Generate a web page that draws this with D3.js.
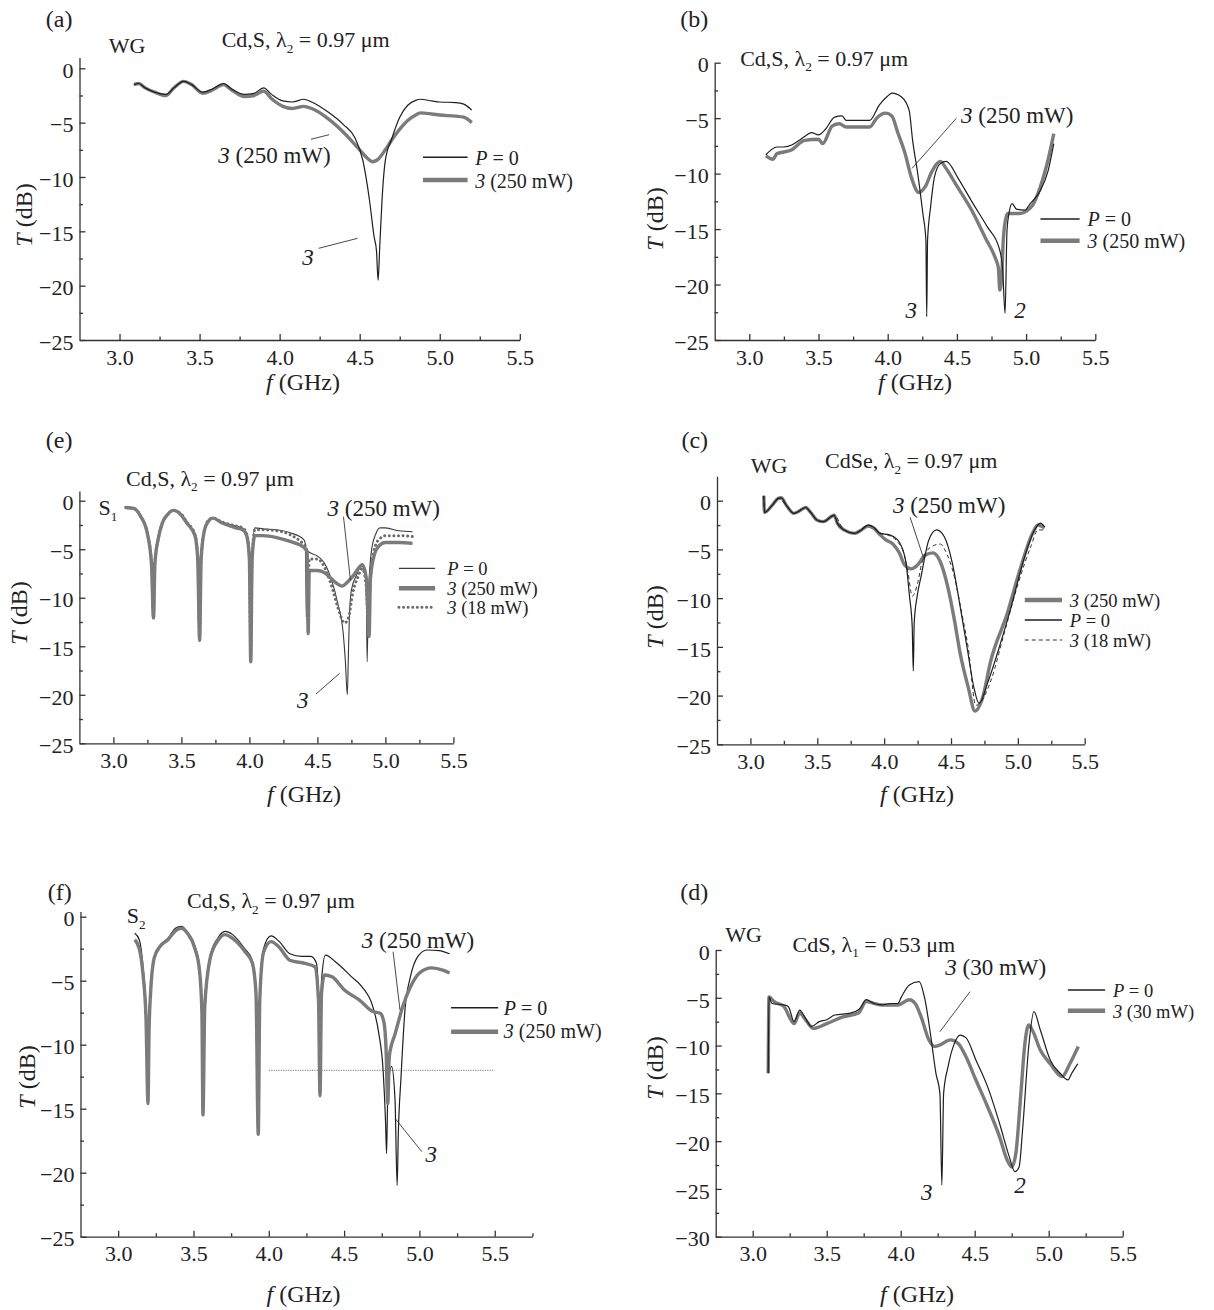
<!DOCTYPE html>
<html><head><meta charset="utf-8">
<script src="https://cdn.jsdelivr.net/npm/d3@7"></script>
<style>
body{margin:0;background:#fff}
svg{display:block}
text{font-family:"Liberation Serif","Times New Roman",serif;fill:#222;white-space:pre}
</style>
</head><body>
<svg id="chart" width="1214" height="1310"></svg>
<script>
// ---------------- DATA (f in GHz, T in dB) ----------------
const xTickValues = [3.0, 3.5, 4.0, 4.5, 5.0, 5.5];
const yTickValues25 = [0, -5, -10, -15, -20, -25];
const yTickValues30 = [0, -5, -10, -15, -20, -25, -30];

// (a) WG, Cd,S, λ2 = 0.97 µm
const aP0 = [[3.09,-1.5],[3.12,-1.4],[3.16,-1.8],[3.22,-2.2],[3.29,-2.4],[3.34,-1.8],[3.4,-1.2],[3.45,-1.5],[3.52,-2.2],[3.58,-1.9],[3.65,-1.4],[3.7,-1.9],[3.78,-2.4],[3.84,-2.3],[3.9,-1.8],[3.95,-2.4],[4.02,-3.0],[4.08,-3.1],[4.15,-2.85],[4.2,-3.1],[4.3,-4.0],[4.4,-5.2],[4.47,-6.4],[4.52,-8.5],[4.56,-12.0],[4.59,-15.5],[4.605,-16.8],[4.615,-19.5],[4.625,-16.5],[4.64,-12],[4.66,-8.5],[4.7,-6.5],[4.75,-4.5],[4.8,-3.4],[4.85,-2.95],[4.88,-2.85],[4.95,-3.0],[5.0,-3.1],[5.1,-3.15],[5.15,-3.3],[5.2,-3.85]];
const a250 = [[3.09,-1.5],[3.12,-1.4],[3.16,-1.8],[3.22,-2.2],[3.29,-2.5],[3.34,-1.8],[3.4,-1.2],[3.45,-1.5],[3.52,-2.3],[3.58,-2.0],[3.65,-1.5],[3.7,-2.0],[3.78,-2.6],[3.84,-2.5],[3.9,-2.1],[3.95,-2.8],[4.02,-3.5],[4.08,-3.7],[4.15,-3.5],[4.2,-3.7],[4.3,-4.6],[4.4,-5.9],[4.5,-7.5],[4.55,-8.3],[4.58,-8.6],[4.62,-8.3],[4.66,-7.5],[4.7,-6.6],[4.75,-5.6],[4.8,-4.8],[4.85,-4.3],[4.88,-4.1],[4.95,-4.2],[5.0,-4.3],[5.1,-4.4],[5.15,-4.5],[5.2,-5.0]];

// (b) Cd,S, λ2 = 0.97 µm
const bP0 = [[3.12,-8.3],[3.2,-7.6],[3.25,-7.6],[3.31,-7.4],[3.36,-7.0],[3.405,-6.6],[3.45,-6.3],[3.5,-6.5],[3.55,-6.0],[3.617,-4.9],[3.67,-4.8],[3.7,-5.2],[3.8,-5.2],[3.87,-5.2],[3.94,-3.8],[4.0,-3.0],[4.03,-2.75],[4.1,-3.1],[4.155,-4.3],[4.18,-7.0],[4.217,-10.0],[4.254,-13.6],[4.276,-16],[4.282,-22.9],[4.288,-16],[4.31,-13],[4.338,-10.3],[4.38,-9.1],[4.423,-8.9],[4.508,-10.4],[4.607,-12.5],[4.72,-14.8],[4.805,-16.7],[4.83,-18.5],[4.848,-22.6],[4.862,-15.1],[4.876,-13.6],[4.899,-12.7],[4.93,-13.2],[4.99,-13.3],[5.03,-12.7],[5.1,-11.6],[5.16,-9.7],[5.2,-7.3]];
const b250 = [[3.12,-8.4],[3.17,-8.7],[3.2,-8.2],[3.3,-7.9],[3.4,-7.0],[3.5,-6.9],[3.53,-7.3],[3.6,-5.7],[3.65,-5.5],[3.7,-5.8],[3.8,-5.8],[3.87,-5.8],[3.92,-5.0],[3.985,-4.55],[4.03,-4.8],[4.07,-6.2],[4.126,-8.2],[4.17,-10.3],[4.225,-11.7],[4.27,-11.2],[4.32,-9.8],[4.38,-8.9],[4.42,-9.5],[4.494,-11.0],[4.607,-13.3],[4.706,-15.8],[4.777,-17.6],[4.8,-18.5],[4.81,-20.5],[4.825,-19],[4.835,-16],[4.856,-13.9],[4.87,-13.6],[4.95,-13.6],[5.0,-13.4],[5.05,-12.8],[5.1,-11.3],[5.15,-9.2],[5.2,-6.4]];

// (e) S1, Cd,S, λ2 = 0.97 µm
const eP0 = [[3.09,-0.7],[3.15,-0.8],[3.2,-1.6],[3.25,-3.4],[3.28,-6.5],[3.295,-12],[3.305,-6.5],[3.33,-3.9],[3.36,-2.3],[3.4,-1.4],[3.44,-1.0],[3.5,-1.4],[3.54,-2.2],[3.6,-3.5],[3.62,-6],[3.634,-14.4],[3.645,-6],[3.67,-3.0],[3.7,-2.0],[3.73,-1.8],[3.8,-2.2],[3.9,-2.6],[3.95,-2.8],[3.98,-3.4],[4.0,-6],[4.01,-16.5],[4.02,-6],[4.04,-2.8],[4.1,-2.9],[4.2,-3.0],[4.3,-3.3],[4.4,-4.0],[4.413,-4.6],[4.418,-12],[4.425,-5.2],[4.45,-5.4],[4.5,-5.7],[4.55,-6.4],[4.6,-8.0],[4.65,-10.6],[4.69,-13.7],[4.705,-16.4],[4.72,-20],[4.727,-16.4],[4.735,-12],[4.75,-9.2],[4.79,-7.6],[4.83,-6.5],[4.85,-7.4],[4.86,-10],[4.866,-16.6],[4.874,-10],[4.9,-4.9],[4.93,-3.4],[4.96,-2.8],[5.0,-2.8],[5.1,-3.1],[5.2,-3.2]];
const e250 = [[3.09,-0.7],[3.15,-0.8],[3.2,-1.6],[3.25,-3.4],[3.28,-6.5],[3.295,-12.1],[3.305,-6.5],[3.33,-3.9],[3.36,-2.3],[3.4,-1.4],[3.44,-1.0],[3.5,-1.5],[3.54,-2.3],[3.6,-3.6],[3.62,-6],[3.634,-14.4],[3.645,-6],[3.67,-3.0],[3.7,-2.1],[3.73,-1.8],[3.8,-2.3],[3.9,-2.8],[3.95,-3.0],[3.98,-3.6],[4.0,-6],[4.01,-16.6],[4.02,-6],[4.04,-3.6],[4.1,-3.6],[4.2,-3.8],[4.3,-4.2],[4.4,-4.8],[4.425,-5.3],[4.432,-13.7],[4.44,-7.2],[4.5,-7.2],[4.55,-7.4],[4.6,-8.0],[4.65,-8.6],[4.68,-8.8],[4.72,-8.4],[4.76,-7.8],[4.8,-7.0],[4.83,-6.6],[4.86,-8],[4.88,-14],[4.89,-8],[4.92,-5.5],[4.95,-4.7],[5.0,-4.3],[5.1,-4.3],[5.2,-4.4]];
const e18 = [[3.09,-0.7],[3.15,-0.8],[3.2,-1.6],[3.25,-3.4],[3.28,-6.5],[3.295,-12],[3.305,-6.5],[3.33,-3.9],[3.36,-2.3],[3.4,-1.4],[3.44,-1.0],[3.5,-1.4],[3.54,-2.2],[3.6,-3.5],[3.62,-6],[3.634,-14.2],[3.645,-6],[3.67,-3.0],[3.7,-2.0],[3.73,-1.8],[3.8,-2.2],[3.9,-2.6],[3.95,-2.8],[3.98,-3.4],[4.0,-6],[4.01,-16.3],[4.02,-6],[4.04,-3.0],[4.1,-3.0],[4.2,-3.1],[4.3,-3.5],[4.4,-4.5],[4.42,-4.8],[4.43,-12.5],[4.44,-6.0],[4.5,-6.0],[4.55,-6.8],[4.6,-8.6],[4.65,-11],[4.7,-12.6],[4.73,-12],[4.76,-9.5],[4.8,-7.8],[4.83,-7.0],[4.86,-9],[4.875,-14],[4.89,-8],[4.93,-4.5],[4.96,-3.9],[5.0,-3.6],[5.1,-3.6],[5.2,-3.7]];

// (c) WG, CdSe, λ2 = 0.97 µm
const cP0 = [[3.1,0.5],[3.105,-1.2],[3.164,-0.45],[3.208,0.24],[3.23,0.3],[3.27,-0.5],[3.325,-1.3],[3.36,-1.1],[3.413,-0.7],[3.45,-1.2],[3.5,-2.0],[3.545,-2.15],[3.626,-1.5],[3.65,-2.3],[3.7,-3.0],[3.78,-3.35],[3.83,-3.0],[3.88,-2.5],[3.92,-2.7],[3.97,-3.35],[4.04,-3.5],[4.1,-4.0],[4.16,-6.1],[4.19,-9.85],[4.21,-12.9],[4.218,-17.5],[4.225,-12.5],[4.247,-9.8],[4.276,-7.8],[4.335,-4.0],[4.393,-3.0],[4.45,-3.7],[4.51,-6.4],[4.569,-10.9],[4.628,-15.7],[4.67,-19.1],[4.71,-20.8],[4.774,-18.7],[4.862,-15],[4.95,-10.9],[5.037,-6.4],[5.125,-3.0],[5.17,-2.3],[5.2,-2.7]];
const c250 = [[3.1,0.5],[3.105,-1.2],[3.164,-0.45],[3.208,0.24],[3.23,0.3],[3.27,-0.5],[3.325,-1.3],[3.36,-1.1],[3.413,-0.7],[3.45,-1.2],[3.5,-2.0],[3.545,-2.15],[3.626,-1.5],[3.65,-2.3],[3.7,-3.0],[3.78,-3.35],[3.83,-3.0],[3.88,-2.6],[3.92,-2.8],[3.97,-3.5],[4.01,-4.0],[4.07,-4.5],[4.115,-5.4],[4.153,-6.6],[4.203,-7.0],[4.25,-6.6],[4.306,-5.6],[4.364,-5.35],[4.42,-6.26],[4.475,-8.8],[4.525,-12.2],[4.569,-15.7],[4.628,-19.1],[4.68,-21.6],[4.73,-20.5],[4.8,-16.3],[4.92,-11.6],[5.02,-6.9],[5.11,-3.35],[5.15,-2.5],[5.2,-2.8]];
const c18 = [[3.1,0.5],[3.105,-1.2],[3.164,-0.45],[3.208,0.24],[3.27,-0.5],[3.325,-1.3],[3.413,-0.7],[3.5,-2.0],[3.545,-2.15],[3.626,-1.5],[3.7,-3.0],[3.78,-3.35],[3.88,-2.5],[3.97,-3.3],[4.04,-3.6],[4.1,-4.2],[4.15,-5.5],[4.18,-7.5],[4.21,-9.8],[4.25,-8.5],[4.28,-6.5],[4.335,-4.9],[4.42,-4.45],[4.46,-5.2],[4.525,-7.8],[4.58,-11.5],[4.628,-15],[4.686,-21],[4.72,-20.7],[4.8,-18.4],[4.9,-13.5],[5.0,-8.6],[5.1,-4.6],[5.15,-3.0],[5.2,-3.0]];

// (f) S2, Cd,S, λ2 = 0.97 µm
const fP0 = [[3.11,-1.3],[3.14,-1.8],[3.165,-3.9],[3.185,-7.3],[3.195,-12],[3.2,-9],[3.216,-5.5],[3.24,-3.1],[3.28,-2.2],[3.33,-1.7],[3.38,-0.9],[3.42,-0.75],[3.46,-1.2],[3.51,-2.3],[3.54,-3.9],[3.556,-7.3],[3.565,-14],[3.575,-6.5],[3.61,-3.1],[3.66,-1.7],[3.71,-1.15],[3.76,-1.4],[3.84,-2.5],[3.89,-3.4],[3.915,-5.5],[3.928,-15],[3.94,-6],[3.965,-2.5],[4.015,-1.5],[4.07,-1.95],[4.14,-2.9],[4.22,-3.1],[4.28,-3.1],[4.315,-3.6],[4.33,-6],[4.34,-12],[4.35,-5],[4.376,-3.0],[4.45,-3.6],[4.55,-4.7],[4.62,-5.5],[4.69,-7.0],[4.73,-9.1],[4.76,-12.2],[4.775,-16],[4.782,-18.5],[4.79,-13.8],[4.815,-11.7],[4.838,-14.3],[4.852,-21],[4.86,-16.9],[4.878,-12.5],[4.904,-7.3],[4.94,-4.7],[4.99,-3.1],[5.05,-2.6],[5.13,-2.65],[5.2,-2.9]];
const f250 = [[3.11,-1.8],[3.14,-2.5],[3.165,-4.5],[3.185,-8],[3.198,-14.6],[3.205,-9],[3.216,-5.8],[3.24,-3.2],[3.28,-2.3],[3.33,-1.8],[3.38,-1.1],[3.42,-0.9],[3.46,-1.3],[3.51,-2.5],[3.54,-4.2],[3.556,-7.5],[3.563,-15.5],[3.575,-7],[3.61,-3.3],[3.66,-1.9],[3.71,-1.4],[3.76,-1.7],[3.84,-2.7],[3.89,-3.6],[3.915,-6],[3.93,-17],[3.94,-6.5],[3.965,-2.8],[4.015,-1.95],[4.07,-2.4],[4.14,-3.4],[4.24,-3.65],[4.305,-3.9],[4.33,-6.5],[4.34,-14],[4.35,-6],[4.37,-4.55],[4.42,-4.7],[4.5,-5.7],[4.6,-6.5],[4.69,-7.4],[4.74,-7.55],[4.765,-8.3],[4.778,-10.2],[4.79,-14.6],[4.8,-10.9],[4.84,-9.1],[4.89,-7.0],[4.94,-5.5],[5.0,-4.4],[5.08,-4.0],[5.16,-4.2],[5.2,-4.4]];
const fLevel = [[4.0,-12],[5.5,-12]];

// (d) WG, CdS, λ1 = 0.53 µm
const dP0 = [[3.105,-12.9],[3.11,-4.9],[3.13,-5.6],[3.21,-5.75],[3.24,-5.9],[3.28,-7.5],[3.317,-6.3],[3.357,-7.15],[3.397,-8.0],[3.45,-7.5],[3.5,-7.3],[3.555,-6.8],[3.66,-6.6],[3.72,-6.2],[3.767,-5.2],[3.82,-5.6],[3.873,-5.75],[3.93,-5.6],[3.98,-5.6],[4.005,-4.9],[4.058,-3.66],[4.124,-3.3],[4.164,-5.2],[4.204,-9.1],[4.238,-12.9],[4.265,-15.0],[4.278,-24.6],[4.29,-15],[4.32,-12.2],[4.362,-9.8],[4.402,-8.9],[4.442,-9.2],[4.508,-11.5],[4.587,-14.3],[4.667,-18.1],[4.733,-21.6],[4.772,-23.2],[4.8,-22.7],[4.825,-18.5],[4.865,-10.1],[4.9,-6.45],[4.944,-8.4],[5.01,-11.5],[5.077,-12.9],[5.13,-13.6],[5.156,-12.9],[5.196,-11.9]];
const d30 = [[3.105,-12.9],[3.11,-4.9],[3.145,-5.4],[3.21,-5.9],[3.28,-7.7],[3.317,-6.6],[3.357,-7.3],[3.41,-8.2],[3.5,-7.7],[3.61,-7.0],[3.714,-6.6],[3.767,-5.4],[3.873,-5.75],[3.98,-5.75],[4.058,-5.2],[4.098,-5.6],[4.138,-7.0],[4.19,-9.4],[4.23,-10.1],[4.27,-9.9],[4.336,-9.4],[4.39,-9.8],[4.442,-11.2],[4.508,-13.6],[4.587,-16.4],[4.667,-19.5],[4.72,-22.0],[4.75,-22.7],[4.778,-21.3],[4.812,-15.0],[4.839,-9.8],[4.865,-7.85],[4.89,-8.4],[4.944,-10.5],[5.01,-11.9],[5.09,-13.25],[5.143,-11.9],[5.2,-10.1]];

// ---------------- STYLES ----------------
const styles = {
  gray:  {stroke:"#7b7b7b", width:3.4, dash:null, legendWidth:4.5},
  black: {stroke:"#1e1e1e", width:1.2, dash:null, legendWidth:1.4},
  thin:  {stroke:"#3a3a3a", width:1.1, dash:null, legendWidth:1.3},
  dot:   {stroke:"#6a6a6a", width:3.0, dash:"0.01,4.6", legendWidth:3.0, cap:"round"},
  dash:  {stroke:"#333", width:1.0, dash:"4,3", legendWidth:1.1},
  level: {stroke:"#777", width:1.0, dash:"1.2,1.2", legendWidth:1}
};

const P0 = [{t:"P",i:1},{t:" = 0"}];
const mw250 = [{t:"3",i:1},{t:" (250 mW)"}];
const mw18 = [{t:"3",i:1},{t:" (18 mW)"}];
const mw30 = [{t:"3",i:1},{t:" (30 mW)"}];
const three = [{t:"3",i:1}];
const two = [{t:"2",i:1}];
const title97 = [{t:"Cd,S, λ"},{t:"2",sub:1},{t:" = 0.97 μm"}];

// series are drawn in the listed order (later on top)
const panels = [
 {id:"a", xr:[79.5,519.8], xMax:5.5, y0:68.3, yMinPx:340, yMin:-25, yTop:1,
  series:[{d:a250,s:"gray"},{d:aP0,s:"black"}],
  legend:{x1:423,x2:467.6,tx:475.2,fs:20,items:[{s:"black",y:157.3,ty:164.5,p:P0},{s:"gray",y:180,ty:187.5,p:mw250}]},
  texts:[{x:45.8,y:27.3,p:[{t:"(a)"}],fs:24},{x:108.8,y:53.3,p:[{t:"WG"}],fs:22},{x:221.7,y:47.3,p:title97,fs:22},
         {x:218.3,y:163.3,p:mw250,fs:23},{x:302.3,y:265,p:three,fs:23}],
  leaders:[[311,139.3,329,134.7],[318.7,248.3,357.6,238.3]],
  yLab:[24,215], xLab:[303,390]},
 {id:"b", xr:[714.7,1095.3], xMax:5.5, y0:62.7, yMinPx:340, yMin:-25, yTop:0,
  series:[{d:b250,s:"gray"},{d:bP0,s:"black"}],
  legend:{x1:1040.5,x2:1079.6,tx:1087.5,fs:20,items:[{s:"black",y:219,ty:226,p:P0},{s:"gray",y:240.7,ty:247.7,p:mw250}]},
  texts:[{x:680.3,y:27.3,p:[{t:"(b)"}],fs:24},{x:740.2,y:65.7,p:title97,fs:22},
         {x:961,y:123.3,p:mw250,fs:23},{x:905.4,y:318.3,p:three,fs:23},{x:1014.3,y:318.3,p:two,fs:23}],
  leaders:[[956.3,118.3,912.1,168.3]],
  yLab:[655,219], xLab:[915,390]},
 {id:"e", xr:[79.4,453.4], xMax:5.5, y0:500.7, yMinPx:743.3, yMin:-25, yTop:1,
  series:[{d:eP0,s:"thin"},{d:e18,s:"dot"},{d:e250,s:"gray"}],
  legend:{x1:398.9,x2:435.1,tx:447.3,fs:18.5,items:[{s:"thin",y:568.3,ty:575.3,p:P0},{s:"gray",y:588.3,ty:595.3,p:mw250},{s:"dot",y:607.3,ty:614.3,p:mw18}]},
  texts:[{x:45.8,y:448.3,p:[{t:"(e)"}],fs:24},{x:126,y:485.7,p:title97,fs:22},{x:98.5,y:515,p:[{t:"S"},{t:"1",sub:1}],fs:22},
         {x:327.5,y:516,p:mw250,fs:23},{x:297,y:708.3,p:three,fs:23}],
  leaders:[[343.5,516.7,350.4,580],[316,694,339.7,673.3]],
  yLab:[19,613], xLab:[304,801.7]},
 {id:"c", xr:[717,1084.7], xMax:5.5, y0:500.7, yMinPx:744.3, yMin:-25, yTop:2.5,
  series:[{d:c250,s:"gray"},{d:c18,s:"dash"},{d:cP0,s:"black"}],
  legend:{x1:1024.8,x2:1062,tx:1069.8,fs:18.5,items:[{s:"gray",y:600,ty:607,p:mw250},{s:"black",y:620,ty:627,p:P0},{s:"dash",y:640,ty:647,p:mw18}]},
  texts:[{x:681.4,y:448.3,p:[{t:"(c)"}],fs:24},{x:750.7,y:473.3,p:[{t:"WG"}],fs:22},
         {x:825.1,y:468.3,p:[{t:"CdSe, λ"},{t:"2",sub:1},{t:" = 0.97 μm"}],fs:22},
         {x:892.9,y:513.3,p:mw250,fs:23}],
  leaders:[[910.1,517.3,924.2,560]],
  yLab:[655,617], xLab:[917,801.7]},
 {id:"f", xr:[80.5,532.4], xMax:5.75, y0:916.7, yMinPx:1236.7, yMin:-25, yTop:0.4,
  series:[{d:fLevel,s:"level"},{d:fP0,s:"black"},{d:f250,s:"gray"}],
  legend:{x1:451.1,x2:498.1,tx:503.8,fs:20,items:[{s:"black",y:1007.7,ty:1014.7,p:P0},{s:"gray",y:1031.7,ty:1038.3,p:mw250}]},
  texts:[{x:47.7,y:900,p:[{t:"(f)"}],fs:24},{x:126.7,y:923.3,p:[{t:"S"},{t:"2",sub:1}],fs:22},{x:187,y:908.3,p:title97,fs:22},
         {x:361.8,y:948.3,p:mw250,fs:23},{x:425.6,y:1161.7,p:three,fs:23}],
  leaders:[[393.1,951.7,400,1010],[421.8,1151.7,395,1118.3]],
  yLab:[27,1077], xLab:[303.5,1301.7]},
 {id:"d", xr:[715.7,1122.7], xMax:5.5, y0:950, yMinPx:1236.7, yMin:-30, yTop:0,
  series:[{d:d30,s:"gray"},{d:dP0,s:"black"}],
  legend:{x1:1067.9,x2:1105.1,tx:1112.9,fs:18.5,items:[{s:"black",y:990,ty:996.5,p:P0},{s:"gray",y:1010.7,ty:1017.5,p:mw30}]},
  texts:[{x:680.3,y:900,p:[{t:"(d)"}],fs:24},{x:725.3,y:941.7,p:[{t:"WG"}],fs:22},
         {x:792.6,y:951.7,p:[{t:"CdS, λ"},{t:"1",sub:1},{t:" = 0.53 μm"}],fs:22},
         {x:945.3,y:975,p:mw30,fs:23},{x:921,y:1200,p:three,fs:23},{x:1014.3,y:1193.3,p:two,fs:23}],
  leaders:[[970,991.7,939.9,1031.7]],
  yLab:[655,1068], xLab:[917,1301.7]}
];

// ---------------- DRAWING ----------------
const svg = d3.select("#chart");

function rich(g, x, y, parts, fs, anchor) {
  const t = g.append("text").attr("x", x).attr("y", y).attr("font-size", fs);
  if (anchor) t.attr("text-anchor", anchor);
  let shifted = 0;
  parts.forEach(p => {
    const s = t.append("tspan").text(p.t);
    if (p.i) s.attr("font-style", "italic");
    if (p.sub) { s.attr("font-size", fs * 0.6).attr("dy", fs * 0.25); shifted = fs * 0.25; }
    else if (shifted) { s.attr("dy", -shifted); shifted = 0; }
  });
  return t;
}

const fmtY = d => d === 0 ? "0" : "\u2212" + Math.abs(d);
const fmtX = d3.format(".1f");

panels.forEach(p => {
  const g = svg.append("g").attr("class", "panel-" + p.id);
  const pxPerDb = (p.yMinPx - p.y0) / (-p.yMin);
  const x = d3.scaleLinear().domain([2.75, p.xMax]).range(p.xr);
  const y = d3.scaleLinear().domain([p.yMin, p.yTop]).range([p.yMinPx, p.y0 - p.yTop * pxPerDb]);

  const xMinor = d3.range(3.0, p.xMax + 0.001, 0.25).filter(v => Math.abs(v * 2 - Math.round(v * 2)) > 0.01);
  const yMinor = d3.range(p.yMin, 0.001, 2.5).filter(v => Math.abs(v % 5) > 0.01);
  const yMajor = p.yMin === -30 ? yTickValues30 : yTickValues25;

  // axes
  g.append("g").attr("transform", `translate(0,${p.yMinPx})`)
    .call(d3.axisBottom(x).tickValues(xTickValues).tickFormat(fmtX).tickSizeInner(-6).tickSizeOuter(0).tickPadding(9));
  g.append("g").attr("transform", `translate(0,${p.yMinPx})`)
    .call(d3.axisBottom(x).tickValues(xMinor).tickFormat("").tickSizeInner(-3.5).tickSizeOuter(0))
    .select(".domain").remove();
  const yAxis = g.append("g").attr("transform", `translate(${p.xr[0]},0)`)
    .call(d3.axisLeft(y).tickValues(yMajor).tickFormat(fmtY).tickSizeInner(-6).tickSizeOuter(0).tickPadding(6));
  g.append("g").attr("transform", `translate(${p.xr[0]},0)`)
    .call(d3.axisLeft(y).tickValues(yMinor).tickFormat("").tickSizeInner(-3.5).tickSizeOuter(0))
    .select(".domain").remove();
  g.selectAll(".domain, .tick line").attr("stroke", "#333").attr("stroke-width", 1.3);
  g.selectAll(".tick text").attr("font-size", 22).attr("fill", "#222")
    .attr("font-family", "'Liberation Serif','Times New Roman',serif");
  yAxis.selectAll(".tick text").attr("dy", "0.42em");

  // series
  const line = d3.line().x(d => x(d[0])).y(d => y(d[1])).curve(d3.curveMonotoneX);
  p.series.forEach(s => {
    const st = styles[s.s];
    g.append("path").datum(s.d).attr("d", line).attr("fill", "none")
      .attr("stroke", st.stroke).attr("stroke-width", st.width)
      .attr("stroke-dasharray", st.dash).attr("stroke-linecap", st.cap || "butt")
      .attr("stroke-linejoin", "round");
  });

  // legend
  p.legend.items.forEach(it => {
    const st = styles[it.s];
    g.append("line").attr("x1", p.legend.x1).attr("x2", p.legend.x2).attr("y1", it.y).attr("y2", it.y)
      .attr("stroke", st.stroke).attr("stroke-width", st.legendWidth)
      .attr("stroke-dasharray", st.dash).attr("stroke-linecap", st.cap || "butt");
    rich(g, p.legend.tx, it.ty, it.p, p.legend.fs);
  });

  // annotations
  p.texts.forEach(t => rich(g, t.x, t.y, t.p, t.fs));
  p.leaders.forEach(l => g.append("line").attr("x1", l[0]).attr("y1", l[1]).attr("x2", l[2]).attr("y2", l[3])
    .attr("stroke", "#333").attr("stroke-width", 0.9));

  // axis titles
  rich(g, 0, 0, [{t:"T",i:1},{t:" (dB)"}], 24, "middle")
    .attr("transform", `translate(${p.yLab[0]},${p.yLab[1]}) rotate(-90)`).attr("dy", "0.35em");
  rich(g, p.xLab[0], p.xLab[1], [{t:"f",i:1},{t:" (GHz)"}], 24, "middle");
});
</script>
</body></html>
